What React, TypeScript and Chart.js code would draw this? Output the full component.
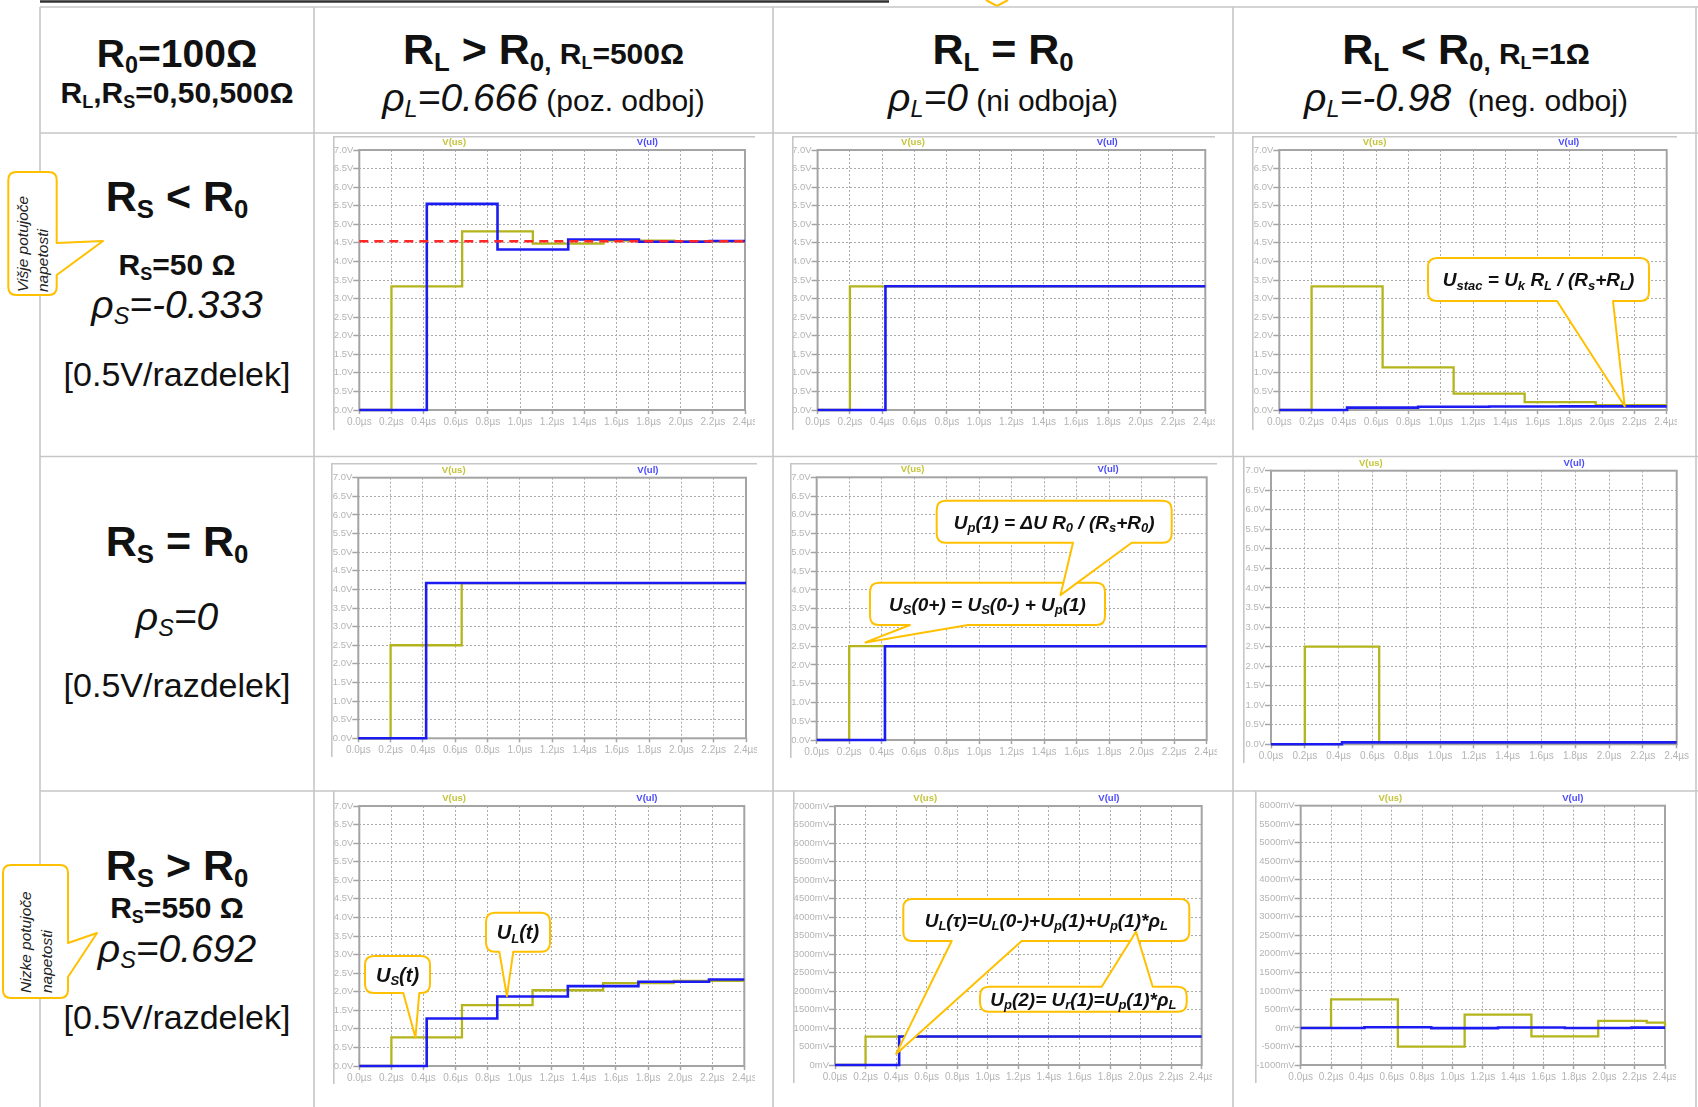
import React, { useEffect, useRef } from 'react';
import { Chart, registerables } from 'chart.js';

Chart.register(...registerables);

const FONT = '"Liberation Sans", Arial, Helvetica, sans-serif';
const CFONT = "'Liberation Sans', Arial, sans-serif";

// ---------- axis ticks ----------
const X_TICKS = [0, 0.2, 0.4, 0.6, 0.8, 1.0, 1.2, 1.4, 1.6, 1.8, 2.0, 2.2, 2.4];
const Y_TICKS_V = [0, 0.5, 1, 1.5, 2, 2.5, 3, 3.5, 4, 4.5, 5, 5.5, 6, 6.5, 7];
const Y_TICKS_MV = [0, 500, 1000, 1500, 2000, 2500, 3000, 3500, 4000, 4500, 5000, 5500, 6000, 6500, 7000];
const Y_TICKS_MV_NEG = [-1000, -500, 0, 500, 1000, 1500, 2000, 2500, 3000, 3500, 4000, 4500, 5000, 5500, 6000];

// ---------- step times (µs): value holds from each time on ----------
const T_US = [0, 0.2, 0.64, 1.08, 1.52, 1.96, 2.4];
const T_UL = [0, 0.42, 0.86, 1.3, 1.74, 2.18, 2.4];
const T_US_R3C3 = [0, 0.2, 0.64, 1.08, 1.52, 1.96, 2.28, 2.4];

// ---------- series values ----------
// row 1: Rs = 50 Ω
const US_R1C1 = [0, 3.33, 4.81, 4.48, 4.56, 4.54, 4.54];
const UL_R1C1 = [0, 5.55, 4.32, 4.59, 4.53, 4.55, 4.55];
const STEADY_R1C1 = 4.545;
const US_R1C2 = [0, 3.33, 3.33, 3.33, 3.33, 3.33, 3.33];
const UL_R1C2 = [0, 3.33, 3.33, 3.33, 3.33, 3.33, 3.33];
const US_R1C3 = [0, 3.33, 1.15, 0.44, 0.21, 0.13, 0.13];
const UL_R1C3 = [0, 0.065, 0.088, 0.096, 0.098, 0.098, 0.098];
// row 2: Rs = R0
const US_R2C1 = [0, 2.5, 4.17, 4.17, 4.17, 4.17, 4.17];
const UL_R2C1 = [0, 4.17, 4.17, 4.17, 4.17, 4.17, 4.17];
const US_R2C2 = [0, 2.5, 2.5, 2.5, 2.5, 2.5, 2.5];
const UL_R2C2 = [0, 2.5, 2.5, 2.5, 2.5, 2.5, 2.5];
const US_R2C3 = [0, 2.5, 0.05, 0.05, 0.05, 0.05, 0.05];
const UL_R2C3 = [0, 0.05, 0.05, 0.05, 0.05, 0.05, 0.05];
// row 3: Rs = 550 Ω
const US_R3C1 = [0, 0.77, 1.64, 2.04, 2.23, 2.29, 2.29];
const UL_R3C1 = [0, 1.28, 1.87, 2.15, 2.27, 2.33, 2.33];
const US_R3C2 = [0, 769, 769, 769, 769, 769, 769]; // mV
const UL_R3C2 = [0, 769, 769, 769, 769, 769, 769]; // mV
const US_R3C3 = [0, 769, -506, 359, -228, 190, 145, 30]; // mV
const UL_R3C3 = [0, 18, -4, 14, 0, 10, 10]; // mV

// ---------- colours ----------
const OLIVE = '#b4b41c';
const OLIVE_LABEL = '#c4c43c';
const BLUE = '#1c1cf2';
const BLUE_LABEL = '#4a4aff';
const RED = '#ff2626';
const ORANGE = '#ffc000';
const GRID = '#ababab';
const FRAME = '#a4a4a4';
const TICK_LABEL = '#b4b4b4';
const TABLE = '#c6c6c6';

type Side = 'top' | 'bottom' | 'left' | 'right';
type Callout = {
  box: [number, number, number, number];
  side: Side;
  base: [number, number];
  tip: [number, number];
  text: string;
  size: number;
};
type Spec = {
  key: string;
  pane: [number, number, number, number];
  frame: [number, number, number, number];
  unit: 'V' | 'mV';
  yTicks: number[];
  us: [number[], number[]];
  ul: [number[], number[]];
  steady?: number;
  paneTop: boolean;
  callouts: Callout[];
};

const SPECS: Spec[] = [
  {
    key: 'r1c1', pane: [333, 136, 422, 294], frame: [26.3, 14, 412, 274], unit: 'V', yTicks: Y_TICKS_V,
    us: [T_US, US_R1C1], ul: [T_UL, UL_R1C1], steady: STEADY_R1C1, paneTop: true, callouts: [],
  },
  {
    key: 'r1c2', pane: [792, 136, 423, 294], frame: [25.6, 14, 413.3, 274], unit: 'V', yTicks: Y_TICKS_V,
    us: [T_US, US_R1C2], ul: [T_UL, UL_R1C2], paneTop: true, callouts: [],
  },
  {
    key: 'r1c3', pane: [1252, 136, 425, 294], frame: [27.3, 14, 414.7, 274], unit: 'V', yTicks: Y_TICKS_V,
    us: [T_US, US_R1C3], ul: [T_UL, UL_R1C3], paneTop: true,
    callouts: [
      { box: [176, 122, 221, 43], side: 'bottom', base: [305, 361], tip: [2.14, 0.1], text: 'U_{stac} = U_{k} R_{L} / (R_{s}+R_{L})', size: 19 },
    ],
  },
  {
    key: 'r2c1', pane: [331, 463, 426, 294], frame: [27.3, 14.7, 415, 275.3], unit: 'V', yTicks: Y_TICKS_V,
    us: [T_US, US_R2C1], ul: [T_UL, UL_R2C1], paneTop: true, callouts: [],
  },
  {
    key: 'r2c2', pane: [790, 463, 427, 295], frame: [26.7, 14.3, 416.7, 277], unit: 'V', yTicks: Y_TICKS_V,
    us: [T_US, US_R2C2], ul: [T_UL, UL_R2C2], paneTop: true,
    callouts: [
      { box: [80, 119.7, 235, 42.3], side: 'bottom', base: [120, 178], tip: [0.3, 2.6], text: 'U_{S}(0+) = U_{S}(0-) + U_{p}(1)', size: 19 },
      { box: [146.7, 37.7, 235, 42], side: 'bottom', base: [283, 341.7], tip: [1.5, 3.86], text: 'U_{p}(1) = ΔU R_{0} / (R_{s}+R_{0})', size: 19 },
    ],
  },
  {
    key: 'r2c3', pane: [1243, 457, 447, 306], frame: [28, 13.7, 433.7, 287.3], unit: 'V', yTicks: Y_TICKS_V,
    us: [T_US, US_R2C3], ul: [T_UL, UL_R2C3], paneTop: false, callouts: [],
  },
  {
    key: 'r3c1', pane: [333, 791, 422, 293], frame: [26.3, 15, 411.3, 275], unit: 'V', yTicks: Y_TICKS_V,
    us: [T_US, US_R3C1], ul: [T_UL, UL_R3C1], paneTop: false,
    callouts: [
      { box: [32, 165, 65, 37], side: 'bottom', base: [70.3, 86.3], tip: [0.35, 0.77], text: 'U_{S}(t)', size: 20 },
      { box: [153, 121.7, 64, 39], side: 'bottom', base: [166.3, 180.3], tip: [0.92, 1.88], text: 'U_{L}(t)', size: 20 },
    ],
  },
  {
    key: 'r3c2', pane: [793, 791, 419, 292], frame: [42, 15, 408.7, 274], unit: 'mV', yTicks: Y_TICKS_MV,
    us: [T_US, US_R3C2], ul: [T_UL, UL_R3C2], paneTop: false,
    callouts: [
      { box: [110.3, 108, 286, 42], side: 'bottom', base: [158.7, 228.7], tip: [0.4, 300], text: 'U_{L}(τ)=U_{L}(0-)+U_{p}(1)+U_{p}(1)*ρ_{L}', size: 19 },
      { box: [187, 195.7, 206.7, 25], side: 'top', base: [308.7, 359.7], tip: [1.97, 3600], text: 'U_{p}(2)= U_{r}(1)=U_{p}(1)*ρ_{L}', size: 19 },
    ],
  },
  {
    key: 'r3c3', pane: [1255, 791, 421, 292], frame: [45.7, 14.7, 410, 274], unit: 'mV', yTicks: Y_TICKS_MV_NEG,
    us: [T_US_R3C3, US_R3C3], ul: [T_UL, UL_R3C3], paneTop: false, callouts: [],
  },
];

// ---------- table text ----------
type Run = { s: string; size: number; bold?: boolean; italic?: boolean };
type Line = { cx: number; cy: number; runs: Run[] };

const TEXT_LINES: Line[] = [
  { cx: 177, cy: 52.5, runs: [{ s: 'R_{0}=100Ω', size: 39, bold: true }] },
  { cx: 177, cy: 92.5, runs: [{ s: 'R_{L},R_{S}=0,50,500Ω', size: 30, bold: true }] },
  { cx: 543.5, cy: 49, runs: [{ s: 'R_{L} > R_{0,}', size: 43, bold: true }, { s: ' R_{L}=500Ω', size: 30, bold: true }] },
  { cx: 543.5, cy: 96.5, runs: [{ s: 'ρ_{L}=0.666', size: 39, italic: true }, { s: ' (poz. odboj)', size: 30 }] },
  { cx: 1003, cy: 49, runs: [{ s: 'R_{L} = R_{0}', size: 43, bold: true }] },
  { cx: 1003, cy: 96.5, runs: [{ s: 'ρ_{L}=0', size: 39, italic: true }, { s: ' (ni odboja)', size: 30 }] },
  { cx: 1466, cy: 49, runs: [{ s: 'R_{L} < R_{0,}', size: 43, bold: true }, { s: ' R_{L}=1Ω', size: 30, bold: true }] },
  { cx: 1466, cy: 96.5, runs: [{ s: 'ρ_{L}=-0.98', size: 39, italic: true }, { s: '  (neg. odboj)', size: 30 }] },

  { cx: 177, cy: 196, runs: [{ s: 'R_{S} < R_{0}', size: 43, bold: true }] },
  { cx: 177, cy: 264.5, runs: [{ s: 'R_{S}=50 Ω', size: 30, bold: true }] },
  { cx: 177, cy: 304, runs: [{ s: 'ρ_{S}=-0.333', size: 39, italic: true }] },
  { cx: 177, cy: 373.5, runs: [{ s: '[0.5V/razdelek]', size: 34 }] },

  { cx: 177, cy: 541, runs: [{ s: 'R_{S} = R_{0}', size: 43, bold: true }] },
  { cx: 177, cy: 616, runs: [{ s: 'ρ_{S}=0', size: 39, italic: true }] },
  { cx: 177, cy: 684.5, runs: [{ s: '[0.5V/razdelek]', size: 34 }] },

  { cx: 177, cy: 864.5, runs: [{ s: 'R_{S} > R_{0}', size: 43, bold: true }] },
  { cx: 177, cy: 907.5, runs: [{ s: 'R_{S}=550 Ω', size: 30, bold: true }] },
  { cx: 177, cy: 947.5, runs: [{ s: 'ρ_{S}=0.692', size: 39, italic: true }] },
  { cx: 177, cy: 1016.5, runs: [{ s: '[0.5V/razdelek]', size: 34 }] },
];

// ---------- helpers ----------
function parseRich(s: string): { t: string; sub: boolean }[] {
  const out: { t: string; sub: boolean }[] = [];
  const re = /_\{([^}]*)\}/g;
  let last = 0;
  let m: RegExpExecArray | null;
  while ((m = re.exec(s))) {
    if (m.index > last) out.push({ t: s.slice(last, m.index), sub: false });
    out.push({ t: m[1], sub: true });
    last = re.lastIndex;
  }
  if (last < s.length) out.push({ t: s.slice(last), sub: false });
  return out;
}

function bubblePath(
  bx: number, by: number, bw: number, bh: number, r: number,
  side: Side, b1: number, b2: number, tx: number, ty: number,
): string {
  const x2 = bx + bw;
  const y2 = by + bh;
  let d = `M ${bx + r} ${by}`;
  if (side === 'top') d += ` L ${b1} ${by} L ${tx} ${ty} L ${b2} ${by}`;
  d += ` L ${x2 - r} ${by} Q ${x2} ${by} ${x2} ${by + r}`;
  if (side === 'right') d += ` L ${x2} ${b1} L ${tx} ${ty} L ${x2} ${b2}`;
  d += ` L ${x2} ${y2 - r} Q ${x2} ${y2} ${x2 - r} ${y2}`;
  if (side === 'bottom') d += ` L ${b2} ${y2} L ${tx} ${ty} L ${b1} ${y2}`;
  d += ` L ${bx + r} ${y2} Q ${bx} ${y2} ${bx} ${y2 - r}`;
  if (side === 'left') d += ` L ${bx} ${b2} L ${tx} ${ty} L ${bx} ${b1}`;
  d += ` L ${bx} ${by + r} Q ${bx} ${by} ${bx + r} ${by} Z`;
  return d;
}

function drawRich(ctx: CanvasRenderingContext2D, s: string, cx: number, cy: number, size: number) {
  const segs = parseRich(s);
  const mainF = `italic bold ${size}px ${CFONT}`;
  const subF = `italic bold ${Math.round(size * 0.66)}px ${CFONT}`;
  let w = 0;
  const widths: number[] = [];
  for (const seg of segs) {
    ctx.font = seg.sub ? subF : mainF;
    const mw = ctx.measureText(seg.t).width;
    widths.push(mw);
    w += mw;
  }
  let x = cx - w / 2;
  const base = cy + size * 0.36;
  ctx.fillStyle = '#111';
  ctx.textAlign = 'left';
  ctx.textBaseline = 'alphabetic';
  segs.forEach((seg, i) => {
    ctx.font = seg.sub ? subF : mainF;
    ctx.fillText(seg.t, x, seg.sub ? base + size * 0.18 : base);
    x += widths[i];
  });
}

function makePlugin(spec: Spec) {
  return {
    id: 'lt_' + spec.key,
    beforeDatasetsDraw(chart: any) {
      const { ctx, chartArea: a } = chart;
      ctx.save();
      ctx.strokeStyle = FRAME;
      ctx.lineWidth = 2;
      ctx.strokeRect(a.left, a.top, a.right - a.left, a.bottom - a.top);
      ctx.restore();
    },
    afterDraw(chart: any) {
      const { ctx, chartArea: a, width, height } = chart;
      ctx.save();
      ctx.strokeStyle = TABLE;
      ctx.lineWidth = 1.6;
      ctx.beginPath();
      if (spec.paneTop) {
        ctx.moveTo(0, 0.8);
        ctx.lineTo(width, 0.8);
      }
      ctx.moveTo(0.8, 0);
      ctx.lineTo(0.8, height);
      ctx.stroke();

      const fw = a.right - a.left;
      ctx.font = `bold 9.5px ${CFONT}`;
      ctx.textAlign = 'center';
      ctx.textBaseline = 'middle';
      const ds = chart.data.datasets;
      ctx.fillStyle = OLIVE_LABEL;
      ctx.fillText(ds[0].label, a.left + 0.246 * fw, a.top - 7.5);
      ctx.fillStyle = BLUE_LABEL;
      ctx.fillText(ds[1].label, a.left + 0.747 * fw, a.top - 7.5);

      const xs = chart.scales.x;
      const ys = chart.scales.y;
      for (const c of spec.callouts) {
        const tx = xs.getPixelForValue(c.tip[0]);
        const ty = ys.getPixelForValue(c.tip[1]);
        const [bx, by, bw, bh] = c.box;
        const p = new Path2D(bubblePath(bx, by, bw, bh, 9, c.side, c.base[0], c.base[1], tx, ty));
        ctx.fillStyle = '#fff';
        ctx.fill(p);
        ctx.strokeStyle = ORANGE;
        ctx.lineWidth = 2;
        ctx.lineJoin = 'round';
        ctx.stroke(p);
        drawRich(ctx, c.text, bx + bw / 2, by + bh / 2, c.size);
      }
      ctx.restore();
    },
  };
}

function buildConfig(spec: Spec): any {
  const [, , pw, ph] = spec.pane;
  const [fl, ft, fr, fb] = spec.frame;
  const yMin = spec.yTicks[0];
  const yMax = spec.yTicks[spec.yTicks.length - 1];
  const fmtY = spec.unit === 'V'
    ? (v: number) => `${v.toFixed(1)}V`
    : (v: number) => `${Math.round(v)}mV`;
  const toPts = (t: number[], v: number[]) => t.map((x, i) => ({ x, y: v[i] }));
  const common = { stepped: 'before', pointRadius: 0, fill: false, tension: 0, clip: 4 };
  const datasets: any[] = [
    { label: 'V(us)', data: toPts(spec.us[0], spec.us[1]), borderColor: OLIVE, borderWidth: 2.3, order: 2, ...common },
    { label: 'V(ul)', data: toPts(spec.ul[0], spec.ul[1]), borderColor: BLUE, borderWidth: 2.6, order: 1, ...common },
  ];
  if (spec.steady !== undefined) {
    datasets.push({
      label: 'U_stac',
      data: [{ x: X_TICKS[0], y: spec.steady }, { x: X_TICKS[X_TICKS.length - 1], y: spec.steady }],
      borderColor: RED, borderWidth: 2.5, borderDash: [9, 6], order: 0,
      pointRadius: 0, fill: false, tension: 0, clip: 4,
    });
  }
  const xFont = { family: CFONT, size: 10 };
  const yFont = { family: CFONT, size: 9.5 };
  return {
    type: 'line',
    data: { datasets },
    plugins: [makePlugin(spec)],
    options: {
      responsive: false,
      animation: false,
      events: [],
      layout: { padding: { left: 0, top: ft, right: pw - fr, bottom: 0 } },
      plugins: { legend: { display: false }, tooltip: { enabled: false }, title: { display: false } },
      scales: {
        x: {
          type: 'linear',
          min: X_TICKS[0],
          max: X_TICKS[X_TICKS.length - 1],
          afterBuildTicks: (s: any) => { s.ticks = X_TICKS.map((value) => ({ value })); },
          afterFit: (s: any) => { s.height = ph - fb; s.paddingLeft = 0; s.paddingRight = 0; },
          ticks: {
            autoSkip: false, maxRotation: 0, minRotation: 0, padding: 2, color: TICK_LABEL, font: xFont,
            callback: (v: any) => `${Number(v).toFixed(1)}µs`,
          },
          grid: { color: GRID, lineWidth: 1, tickLength: 4, tickColor: FRAME, tickWidth: 1.5, tickBorderDash: [] },
          border: { display: false, dash: [2, 2] },
        },
        y: {
          type: 'linear',
          min: yMin,
          max: yMax,
          afterBuildTicks: (s: any) => { s.ticks = spec.yTicks.map((value) => ({ value })); },
          afterFit: (s: any) => { s.width = fl; s.paddingTop = 0; s.paddingBottom = 0; },
          ticks: {
            autoSkip: false, padding: 0, color: TICK_LABEL, font: yFont,
            callback: (v: any) => fmtY(Number(v)),
          },
          grid: { color: GRID, lineWidth: 1, tickLength: 6, tickColor: FRAME, tickWidth: 1.5, tickBorderDash: [] },
          border: { display: false, dash: [2, 2] },
        },
      },
    },
  };
}

function LtChart({ spec }: { spec: Spec }) {
  const ref = useRef<HTMLCanvasElement>(null);
  useEffect(() => {
    if (!ref.current) return;
    const chart = new Chart(ref.current, buildConfig(spec));
    return () => chart.destroy();
  }, [spec]);
  const [x, y, w, h] = spec.pane;
  return (
    <canvas
      ref={ref}
      width={w}
      height={h}
      style={{ position: 'absolute', left: x, top: y, width: w, height: h, display: 'block' }}
    />
  );
}

function RichHtml({ s }: { s: string }) {
  return (
    <>
      {parseRich(s).map((seg, i) =>
        seg.sub ? (
          <span key={i} style={{ fontSize: '0.6em', verticalAlign: '-0.28em', lineHeight: 0 }}>{seg.t}</span>
        ) : (
          <span key={i}>{seg.t}</span>
        ),
      )}
    </>
  );
}

function TextLine({ line }: { line: Line }) {
  const maxSize = Math.max(...line.runs.map((r) => r.size));
  return (
    <div
      style={{
        position: 'absolute', left: line.cx, top: line.cy, transform: 'translate(-50%, -50%)',
        whiteSpace: 'pre', lineHeight: 1, fontFamily: FONT, color: '#111', fontSize: maxSize,
      }}
    >
      {line.runs.map((r, i) => (
        <span
          key={i}
          style={{ fontSize: r.size, fontWeight: r.bold ? 700 : 400, fontStyle: r.italic ? 'italic' : 'normal' }}
        >
          <RichHtml s={r.s} />
        </span>
      ))}
    </div>
  );
}

const H_LINES = [7, 133, 456.5, 791];
const V_LINES = [40, 314, 773, 1233, 1696];

export default function App() {
  return (
    <div style={{ position: 'absolute', left: 0, top: 0, width: 1698, height: 1107, background: '#fff', overflow: 'hidden' }}>
      <svg width={1698} height={1107} style={{ position: 'absolute', left: 0, top: 0 }}>
        <line x1={40} y1={1.5} x2={889} y2={1.5} stroke="#333" strokeWidth={2.5} />
        <polyline points="986,0 997,6 1008,0" fill="#fff" stroke={ORANGE} strokeWidth={2} />
        {H_LINES.map((y) => (
          <line key={'h' + y} x1={40} y1={y} x2={1698} y2={y} stroke={TABLE} strokeWidth={1.6} />
        ))}
        {V_LINES.map((x) => (
          <line key={'v' + x} x1={x} y1={7} x2={x} y2={1107} stroke={TABLE} strokeWidth={1.6} />
        ))}
        <path d={bubblePath(8.3, 172, 48.4, 123, 8, 'right', 243, 275, 103, 241)} fill="#fff" stroke={ORANGE} strokeWidth={2} strokeLinejoin="round" />
        <text transform="translate(28,292) rotate(-90)" fontFamily={FONT} fontStyle="italic" fontSize={15.5} fill="#222">Višje potujoče</text>
        <text transform="translate(48,292) rotate(-90)" fontFamily={FONT} fontStyle="italic" fontSize={15.5} fill="#222">napetosti</text>
        <path d={bubblePath(3, 865, 65, 133, 8, 'right', 943, 977, 97, 933)} fill="#fff" stroke={ORANGE} strokeWidth={2} strokeLinejoin="round" />
        <text transform="translate(31,993) rotate(-90)" fontFamily={FONT} fontStyle="italic" fontSize={15.5} fill="#222">Nizke potujoče</text>
        <text transform="translate(52,993) rotate(-90)" fontFamily={FONT} fontStyle="italic" fontSize={15.5} fill="#222">napetosti</text>
      </svg>
      {TEXT_LINES.map((l, i) => (
        <TextLine key={i} line={l} />
      ))}
      {SPECS.map((s) => (
        <LtChart key={s.key} spec={s} />
      ))}
    </div>
  );
}
